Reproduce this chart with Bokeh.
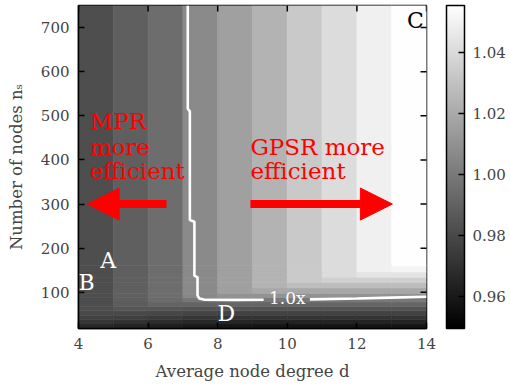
import math
from bokeh.plotting import figure
from bokeh.models import (ColumnDataSource, LinearColorMapper, ColorBar, FixedTicker,
                          Label, Arrow, NormalHead, Range1d, PrintfTickFormatter)
from bokeh.embed import file_html
from bokeh.resources import INLINE

# ---------------- data ----------------
degree_left = [4, 5, 6, 7, 8, 9, 10, 11, 12, 13]          # cell left edges (avg node degree d)
ns_edges = [18, 28, 38, 48, 58, 68, 78, 88, 98, 110, 122, 134, 146, 160, 750]  # row edges (n_s)
# efficiency ratio per row (bottom -> top), columns d = 4..13
ratio_rows = [
    [0.966, 0.964, 0.962, 0.960, 0.959, 0.958, 0.958, 0.958, 0.958, 0.958],
    [0.972, 0.970, 0.968, 0.966, 0.965, 0.964, 0.964, 0.964, 0.964, 0.964],
    [0.977, 0.976, 0.974, 0.972, 0.971, 0.971, 0.971, 0.971, 0.971, 0.971],
    [0.980, 0.980, 0.979, 0.978, 0.977, 0.977, 0.977, 0.977, 0.977, 0.977],
    [0.982, 0.985, 0.985, 0.984, 0.984, 0.984, 0.984, 0.984, 0.984, 0.984],
    [0.982, 0.988, 0.991, 0.991, 0.992, 0.992, 0.992, 0.992, 0.992, 0.992],
    [0.982, 0.989, 0.994, 0.999, 1.000, 1.000, 1.000, 1.000, 1.000, 1.000],
    [0.982, 0.989, 0.995, 1.006, 1.010, 1.010, 1.010, 1.010, 1.010, 1.010],
    [0.982, 0.989, 0.995, 1.007, 1.016, 1.019, 1.019, 1.019, 1.019, 1.019],
    [0.982, 0.989, 0.995, 1.007, 1.016, 1.024, 1.028, 1.028, 1.028, 1.028],
    [0.982, 0.989, 0.995, 1.007, 1.016, 1.024, 1.033, 1.036, 1.036, 1.036],
    [0.982, 0.989, 0.995, 1.007, 1.016, 1.024, 1.033, 1.041, 1.044, 1.044],
    [0.982, 0.989, 0.995, 1.007, 1.016, 1.024, 1.033, 1.041, 1.049, 1.051],
    [0.982, 0.989, 0.995, 1.007, 1.016, 1.024, 1.033, 1.041, 1.049, 1.055],
]
# 1.0x contour (two pieces, broken by its label)
contour_a_d = [7.14, 7.14, 7.20, 7.20, 7.33, 7.33, 7.42, 7.42, 7.47, 7.60, 8.50, 9.32]
contour_a_ns = [750, 516, 510, 264, 260, 138, 134, 93, 86, 83.5, 82.8, 83.2]
contour_b_d = [10.65, 12.0, 13.0, 14.0]
contour_b_ns = [84.0, 86.0, 88.0, 90.0]
x_ticks = [4, 6, 8, 10, 12, 14]
y_ticks = [100, 200, 300, 400, 500, 600, 700]
cbar_ticks = [0.96, 0.98, 1.00, 1.02, 1.04]

X0, X1 = 4, 14
Y0, Y1 = 18, 750

# ---------------- build ----------------
left, right, bottom, top, ratio = [], [], [], [], []
for r, row in enumerate(ratio_rows):
    for c, v in enumerate(row):
        left.append(degree_left[c])
        right.append(degree_left[c] + 1)
        bottom.append(ns_edges[r])
        top.append(ns_edges[r + 1])
        ratio.append(v)
src = ColumnDataSource(dict(left=left, right=right, bottom=bottom, top=top, ratio=ratio))

grey = ["#%02x%02x%02x" % (i, i, i) for i in range(256)]
mapper = LinearColorMapper(palette=grey, low=0.9495, high=1.0555)

FONT = "DejaVu Serif"

p = figure(width=510, height=388, x_range=Range1d(X0, X1), y_range=Range1d(Y0, Y1),
           output_backend="svg", toolbar_location=None,
           min_border_left=78, min_border_top=5, min_border_bottom=60, min_border_right=84)
p.grid.visible = False
p.outline_line_color = "black"
p.outline_line_width = 1.5

p.quad(left="left", right="right", bottom="bottom", top="top", source=src,
       fill_color={"field": "ratio", "transform": mapper},
       line_color={"field": "ratio", "transform": mapper}, line_width=0.6)

p.line(contour_a_d, contour_a_ns, line_color="white", line_width=2.6)
p.line(contour_b_d, contour_b_ns, line_color="white", line_width=2.6)

# mirrored inward ticks on the top and right edges
p.scatter(x=x_ticks, y=[Y1] * len(x_ticks), marker="dash", size=12, angle=math.pi / 2,
          line_color="black", line_width=1.5)
p.scatter(x=[X1] * len(y_ticks), y=y_ticks, marker="dash", size=12,
          line_color="black", line_width=1.5)

for ax in (p.xaxis[0], p.yaxis[0]):
    ax.major_tick_in = 6
    ax.major_tick_out = 0
    ax.minor_tick_line_color = None
    ax.major_tick_line_width = 1.5
    ax.axis_line_width = 1.5
    ax.major_label_text_font = FONT
    ax.major_label_text_font_size = "15px"
    ax.major_label_standoff = 9
    ax.axis_label_text_font = FONT
    ax.axis_label_text_font_size = "16.5px"
    ax.axis_label_text_font_style = "normal"

p.xaxis.ticker = FixedTicker(ticks=x_ticks)
p.yaxis.ticker = FixedTicker(ticks=y_ticks)
p.xaxis.axis_label = "Average node degree d"
p.yaxis.axis_label = "Number of nodes nₛ"
p.xaxis.axis_label_standoff = 10
p.yaxis.axis_label_standoff = 12

cb = ColorBar(color_mapper=mapper, ticker=FixedTicker(ticks=cbar_ticks),
              formatter=PrintfTickFormatter(format="%.2f"), width=18, height=323,
              location=(368, 0), padding=0, margin=0,
              major_tick_in=6, major_tick_out=0,
              major_tick_line_color="black", major_tick_line_width=1.5,
              minor_tick_line_color=None,
              bar_line_color="black", bar_line_width=1.5,
              major_label_text_font=FONT, major_label_text_font_size="15px",
              label_standoff=8, background_fill_alpha=0, border_line_color=None)
p.add_layout(cb)

# ---------------- annotations ----------------
RED = "#ff0000"
for txt, x, y in [("MPR", 4.32, 489), ("more", 4.32, 430), ("efficient", 4.32, 374),
                  ("GPSR more", 8.94, 430), ("efficient", 8.94, 374)]:
    p.add_layout(Label(x=x, y=y, text=txt, text_font=FONT, text_font_size="23px",
                       text_color=RED, text_baseline="alphabetic", text_align="left"))

p.add_layout(Arrow(end=NormalHead(size=32, fill_color=RED, line_color=RED),
                   x_start=6.53, y_start=300, x_end=4.25, y_end=300,
                   line_color=RED, line_width=8))
p.add_layout(Arrow(end=NormalHead(size=32, fill_color=RED, line_color=RED),
                   x_start=8.94, y_start=300, x_end=13.02, y_end=300,
                   line_color=RED, line_width=8))

for txt, x, y, col in [("A", 4.85, 172, "white"), ("B", 4.23, 123, "white"),
                       ("C", 13.68, 716, "black"), ("D", 8.25, 52, "white")]:
    p.add_layout(Label(x=x, y=y, text=txt, text_font=FONT, text_font_size="22px",
                       text_color=col, text_align="center", text_baseline="alphabetic"))

p.add_layout(Label(x=10.0, y=88, text="1.0x", text_font=FONT, text_font_size="17px",
                   text_color="white", text_align="center", text_baseline="alphabetic"))

open("out.html", "w").write(file_html(p, INLINE))
